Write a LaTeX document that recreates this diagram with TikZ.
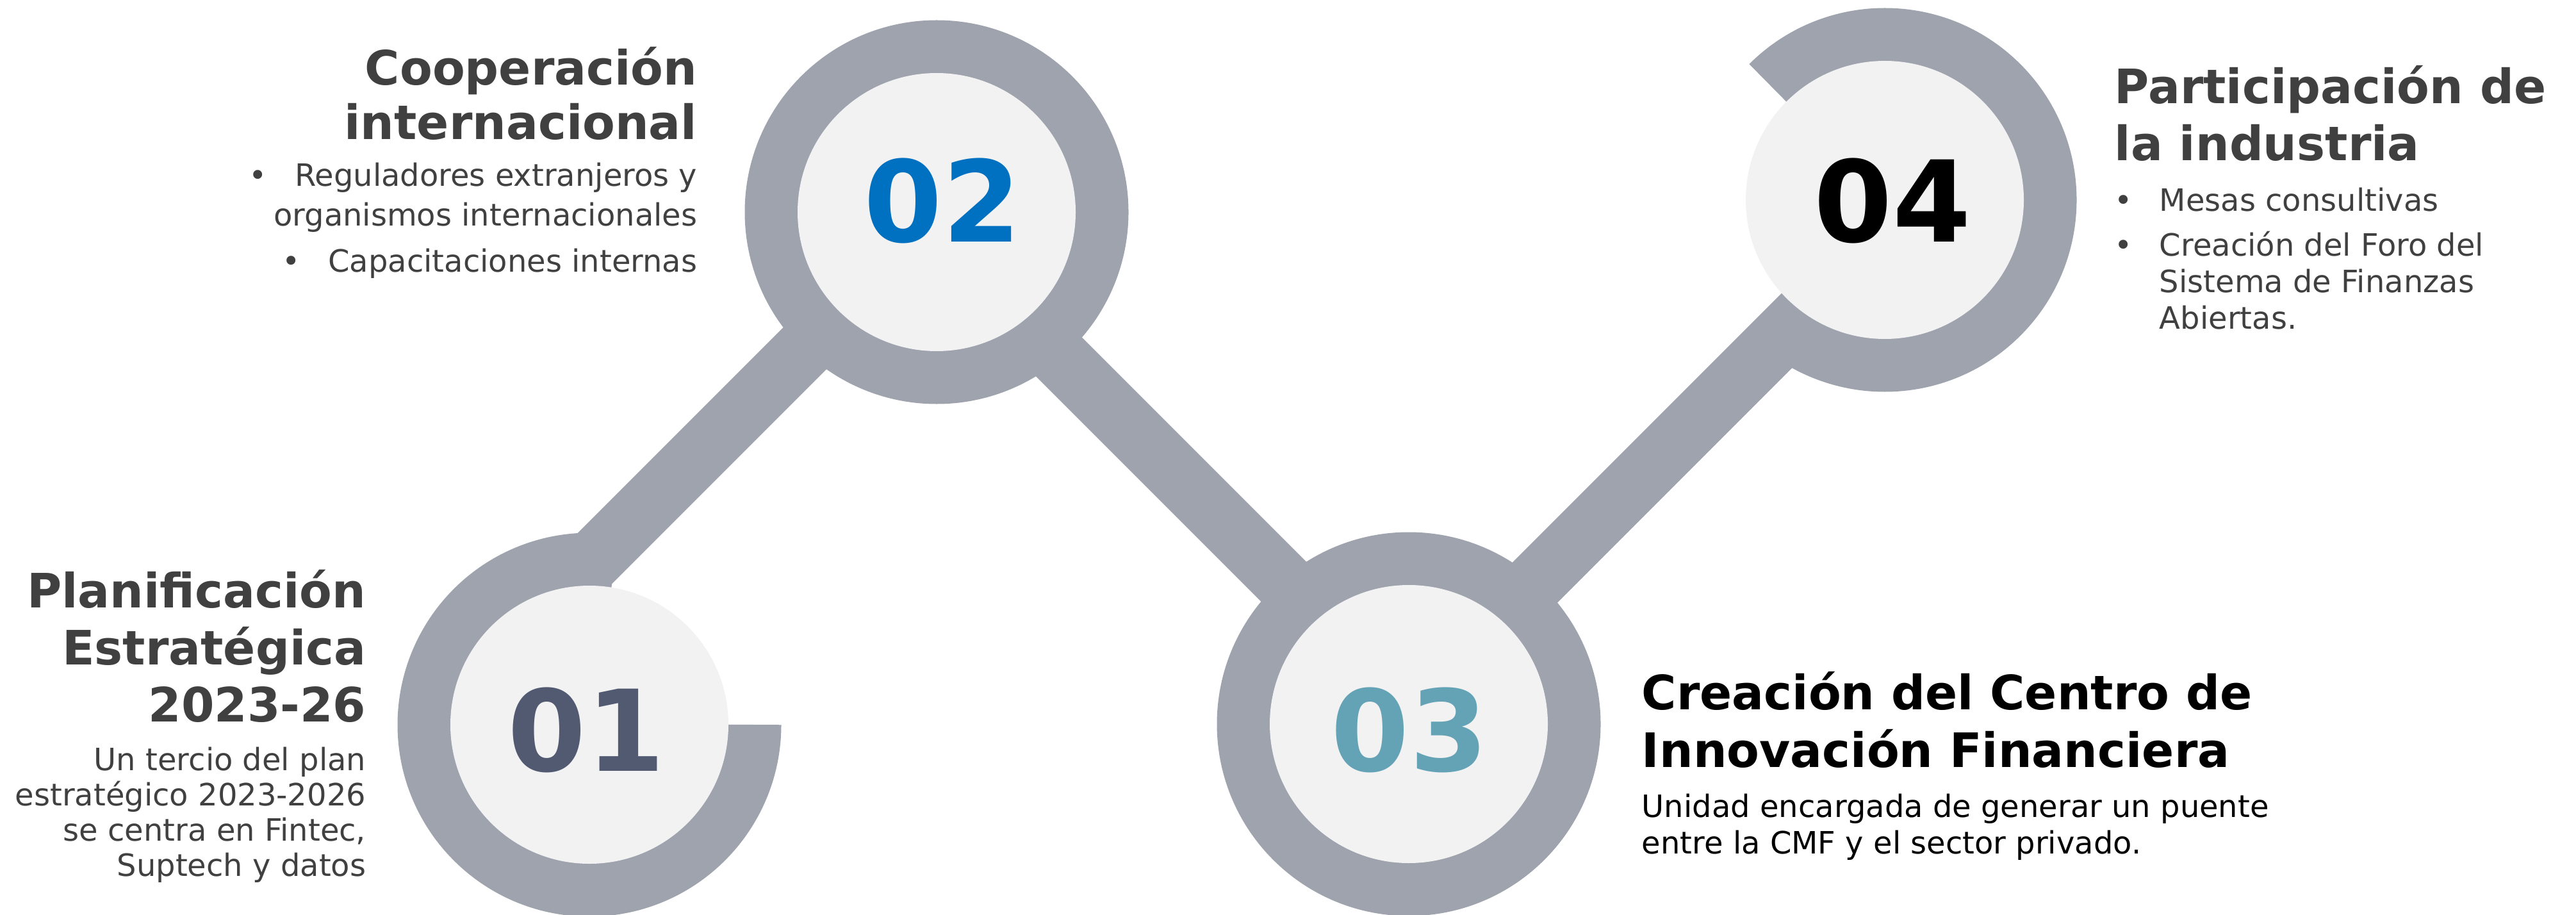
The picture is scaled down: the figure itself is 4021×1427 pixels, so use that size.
\documentclass[tikz,border=0pt]{standalone}
\usepackage{fontspec}
\setmainfont{DejaVu Sans}
\usepackage{xcolor}
\usetikzlibrary{calc,positioning}

\definecolor{ringgray}{RGB}{158,163,174}
\definecolor{discgray}{RGB}{242,242,242}
\definecolor{textgray}{RGB}{64,64,64}
\definecolor{numslate}{RGB}{82,90,114}
\definecolor{numblue}{RGB}{0,112,192}
\definecolor{numteal}{RGB}{100,163,182}

\tikzset{
  ring/.style={draw=ringgray, line width=20.75pt},
  band/.style={draw=ringgray, line width=23.5pt},
  disc/.style={circle, fill=discgray, inner sep=0pt, minimum size=108.5pt},
  numtext/.style={font=\fontsize{44pt}{44pt}\selectfont\bfseries, inner sep=0pt},
  headtext/.style={font=\fontsize{18.5pt}{#1}\selectfont\bfseries, text=textgray, inner sep=0pt},
  bodytext/.style={font=\fontsize{12pt}{#1}\selectfont, text=textgray, inner sep=0pt},
}

\begin{document}
\begin{tikzpicture}[x=0.25pt, y=0.25pt]
    \useasboundingbox (0,0) rectangle (4021,1427);

    % Centres
    \coordinate (c1) at (920,296);
    \coordinate (c2) at (1462,1096);
    \coordinate (c3) at (2199,297);
    \coordinate (c4) at (2942,1115);

    % Rings
    \draw[ring] ($(c1)+(258,0)$) arc[start angle=0, end angle=-279, radius=258];
    \draw[ring] (c2) circle[radius=258];
    \draw[ring] (c3) circle[radius=258];
    \draw[ring] ($(c4)+(135:258)$) arc[start angle=135, end angle=-135, radius=258];

    % Bands
    \draw[band] ($(c1)+(-33,218)$) -- ($(c2)+(7,0)$);
    \draw[band] ($(c2)+(-17.5,-17.5)$) -- ($(c3)+(13.5,13.5)$);
    \draw[band] ($(c3)+(-12,12)$) -- ($(c4)+(26,-25)$);

    % Discs
    \node[disc] (d1) at (c1) {};
    \node[disc] (d2) at (c2) {};
    \node[disc] (d3) at (c3) {};
    \node[disc] (d4) at (c4) {};

    % Numbers
    \node[numtext, text=numslate] (n1) at ($(d1.center)+(-5,-8)$) {01};
    \node[numtext, text=numblue] (n2) at ($(d2.center)+(9,18)$) {02};
    \node[numtext, text=numteal] (n3) at ($(d3.center)+(1,-9)$) {03};
    \node[numtext, text=black] (n4) at ($(d4.center)+(12,-1)$) {04};

    % Planificacion (anchors sit on the last baseline)
    \node[headtext=22.25pt, anchor=base east, align=right] (t1) at (572,301)
        {Planificación\\Estratégica\\2023-26};
    \node[bodytext=13.75pt, anchor=base east, align=right] (b1) at (572,60)
        {Un tercio del plan\\estratégico 2023-2026\\se centra en Fintec,\\Suptech y datos};

    % Cooperacion
    \node[headtext=21.25pt, anchor=base east, align=right] (t2) at (1089,1209)
        {Cooperación\\internacional};
    \node[bodytext=15.5pt, anchor=base east, align=right] (b2) at (1089,1003)
        {\makebox[18pt][l]{•}Reguladores extranjeros y\\
         organismos internacionales\\[2.5pt]
         \makebox[18pt][l]{•}Capacitaciones internas};

    % Centro de Innovacion
    \node[headtext=22.5pt, text=black, anchor=base west, align=left] (t3) at (2562,230)
        {Creación del Centro de\\Innovación Financiera};
    \node[bodytext=14.25pt, text=black, anchor=base west, align=left] (b3) at (2562,95)
        {Unidad encargada de generar un puente\\entre la CMF y el sector privado.};

    % Participacion
    \node[headtext=22.25pt, anchor=base west, align=left] (t4) at (3300,1176)
        {Participación de\\la industria};
    \node[bodytext=14.25pt, anchor=base west, align=left] (b4) at (3300,914)
        {\makebox[17.5pt][l]{•}Mesas consultivas\\[3.25pt]
         \makebox[17.5pt][l]{•}Creación del Foro del\\
         \hspace*{17.5pt}Sistema de Finanzas\\
         \hspace*{17.5pt}Abiertas.};
\end{tikzpicture}
\end{document}
